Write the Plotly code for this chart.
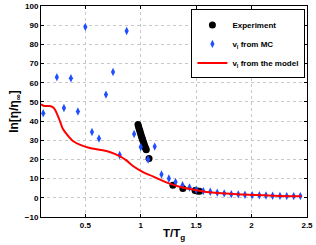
import plotly.graph_objects as go

exp_x = [0.975, 0.98, 0.985, 0.99, 0.995, 1.0, 1.005, 1.01, 1.015, 1.02, 1.025, 1.03, 1.035, 1.04, 1.045, 1.05, 1.075, 1.29, 1.38, 1.49, 1.51, 1.53]
exp_y = [38.2, 37.2, 36.2, 35.2, 34.3, 33.3, 32.4, 31.5, 30.6, 29.7, 28.8, 28.0, 27.2, 26.4, 25.7, 25.0, 20.5, 6.6, 4.8, 3.8, 3.6, 3.4]

mc_x = [0.12, 0.243, 0.307, 0.37, 0.433, 0.5, 0.56, 0.623, 0.686, 0.75, 0.81, 0.873, 0.94, 1.0, 1.066, 1.126,
        1.187, 1.254, 1.314, 1.377, 1.44, 1.5, 1.564, 1.627, 1.69, 1.753, 1.817, 1.88, 1.94, 2.005, 2.07, 2.13,
        2.19, 2.256, 2.317, 2.38, 2.44]
mc_y = [44.1, 62.9, 46.8, 62.3, 45.0, 89.1, 34.3, 30.9, 53.8, 65.6, 22.3, 87.0, 33.3, 26.5, 20.0, 26.7,
        12.2, 10.1, 8.2, 6.6, 5.4, 4.2, 3.5, 3.2, 2.7, 2.3, 1.9, 1.8, 1.6, 1.4, 1.3, 1.2,
        1.1, 1.0, 0.9, 0.9, 0.9]

model_x = [0.10, 0.13, 0.19, 0.22, 0.25, 0.274, 0.297, 0.328, 0.358, 0.388, 0.449, 0.539, 0.629, 0.72, 0.81, 0.87,
           0.93, 1.02, 1.11, 1.17, 1.26, 1.35, 1.47, 1.62, 1.92, 2.2, 2.45]
model_y = [48.8, 47.9, 47.7, 46.5, 43.0, 39.5, 36.0, 33.5, 31.4, 29.6, 27.7, 26.0, 25.1, 23.9, 21.7, 19.5,
           16.6, 13.4, 11.2, 9.6, 7.4, 5.8, 4.3, 2.9, 1.7, 1.1, 0.8]

x_ticks = [0.5, 1, 1.5, 2, 2.5]
y_ticks = list(range(-10, 101, 10))

FONT = "Liberation Sans"

fig = go.Figure()
fig.add_trace(go.Scatter(x=exp_x, y=exp_y, mode="markers", name="Experiment",
                         marker=dict(symbol="circle", size=7, color="black")))
fig.add_trace(go.Scatter(x=mc_x, y=mc_y, mode="markers", name="v<sub>l</sub> from MC",
                         marker=dict(symbol="diamond-tall", size=6, color="#1f4fff")))
fig.add_trace(go.Scatter(x=model_x, y=model_y, mode="lines", name="v<sub>l</sub> from the model",
                         line=dict(color="red", width=2, shape="spline")))

axis_common = dict(showline=True, linecolor="black", linewidth=1, mirror="ticks",
                   ticks="inside", ticklen=3, tickcolor="black",
                   showgrid=True, gridcolor="#c8c8c8", griddash="dot", gridwidth=1,
                   zeroline=False, automargin=False,
                   tickfont=dict(family=FONT, size=8, color="black", weight="bold"))

fig.update_layout(
    width=316, height=245,
    margin=dict(l=41, r=9, t=6, b=28),
    paper_bgcolor="white", plot_bgcolor="white",
    font=dict(family=FONT, size=8, color="black"),
    xaxis=dict(range=[0.1, 2.5], tickvals=x_ticks, ticktext=[str(v) for v in x_ticks],
               title=dict(text="T/T<sub>g</sub>", font=dict(family=FONT, size=11.5, weight="bold"), standoff=0),
               **axis_common),
    yaxis=dict(range=[-10, 100], tickvals=y_ticks,
               title=dict(text="ln[η/η<sub>∞</sub>]", font=dict(family=FONT, size=12, weight="bold"), standoff=3),
               **axis_common),
    legend=dict(x=0.994, y=0.984, xanchor="right", yanchor="top",
                bgcolor="white", bordercolor="black", borderwidth=1,
                font=dict(family=FONT, size=8, color="black", weight="bold"),
                tracegroupgap=0, itemwidth=30),
    showlegend=True,
)

fig.write_html("out.html", config={"displayModeBar": False},
               post_script="document.body.style.margin='0px';document.body.style.overflow='hidden';")
